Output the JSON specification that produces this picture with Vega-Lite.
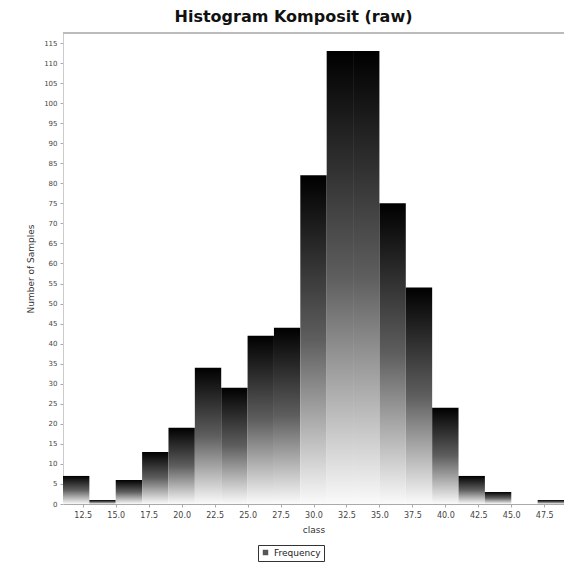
{
  "$schema": "https://vega.github.io/schema/vega-lite/v6.json",
  "width": 501,
  "height": 471,
  "autosize": "none",
  "padding": {"left": 63, "top": 33, "right": 0, "bottom": 60},
  "background": "white",
  "config": {"view": {"stroke": null}, "font": "DejaVu Sans", "axis": {"labelOverlap": false}},
  "title": {"text": "Histogram Komposit (raw)", "fontSize": 16, "fontWeight": "bold", "font": "DejaVu Sans", "color": "#111", "offset": 8, "dx": -20},
  "data": {"values": [
    {"x0": 11, "x1": 13, "count": 7, "series": "Frequency"},
    {"x0": 13, "x1": 15, "count": 1, "series": "Frequency"},
    {"x0": 15, "x1": 17, "count": 6, "series": "Frequency"},
    {"x0": 17, "x1": 19, "count": 13, "series": "Frequency"},
    {"x0": 19, "x1": 21, "count": 19, "series": "Frequency"},
    {"x0": 21, "x1": 23, "count": 34, "series": "Frequency"},
    {"x0": 23, "x1": 25, "count": 29, "series": "Frequency"},
    {"x0": 25, "x1": 27, "count": 42, "series": "Frequency"},
    {"x0": 27, "x1": 29, "count": 44, "series": "Frequency"},
    {"x0": 29, "x1": 31, "count": 82, "series": "Frequency"},
    {"x0": 31, "x1": 33, "count": 113, "series": "Frequency"},
    {"x0": 33, "x1": 35, "count": 113, "series": "Frequency"},
    {"x0": 35, "x1": 37, "count": 75, "series": "Frequency"},
    {"x0": 37, "x1": 39, "count": 54, "series": "Frequency"},
    {"x0": 39, "x1": 41, "count": 24, "series": "Frequency"},
    {"x0": 41, "x1": 43, "count": 7, "series": "Frequency"},
    {"x0": 43, "x1": 45, "count": 3, "series": "Frequency"},
    {"x0": 45, "x1": 47, "count": 0, "series": "Frequency"},
    {"x0": 47, "x1": 49, "count": 1, "series": "Frequency"}
  ]},
  "encoding": {
    "x": {"field": "x0", "type": "quantitative", "scale": {"domain": [11, 49], "nice": false, "zero": false},
          "axis": {"title": "class", "values": [12.5, 15, 17.5, 20, 22.5, 25, 27.5, 30, 32.5, 35, 37.5, 40, 42.5, 45, 47.5], "format": ".1f", "grid": false, "labelOverlap": false,
                   "labelFontSize": 8, "labelColor": "#444", "titleFontSize": 9, "titleFontWeight": "normal", "titleColor": "#333", "titlePadding": 6,
                   "domainColor": "#aaaaaa", "tickColor": "#aaaaaa", "tickSize": 3, "labelPadding": 4}},
    "y": {"field": "count", "type": "quantitative", "scale": {"domain": [0, 117.5], "nice": false},
          "axis": {"title": "Number of Samples", "values": [0,5,10,15,20,25,30,35,40,45,50,55,60,65,70,75,80,85,90,95,100,105,110,115], "grid": false, "labelOverlap": false,
                   "labelFontSize": 7, "labelColor": "#444", "titleFontSize": 9, "titleFontWeight": "normal", "titleColor": "#333", "titlePadding": 8,
                   "domainColor": "#cccccc", "tickColor": "#aaaaaa", "tickSize": 3, "labelPadding": 3}}
  },
  "layer": [
    {
      "mark": {"type": "bar", "fill": {"gradient": "linear", "x1": 0, "y1": 0, "x2": 0, "y2": 1, "stops": [{"offset": 0, "color": "#000000"}, {"offset": 0.5, "color": "#5e5e5e"}, {"offset": 1, "color": "#fafafa"}]}},
      "encoding": {
        "x2": {"field": "x1"},
        "y2": {"datum": 0}
      }
    },
    {
      "mark": {"type": "point", "opacity": 0, "shape": "square", "filled": true},
      "encoding": {
        "color": {"field": "series", "type": "nominal", "scale": {"range": ["#555555"]},
                  "legend": {"title": null, "orient": "none", "legendX": 195, "legendY": 512, "symbolOpacity": 1, "symbolType": "square", "symbolSize": 30,
                             "labelFontSize": 9, "labelColor": "#222", "fillColor": "white", "strokeColor": "#333", "padding": 3}}
      }
    },
    {
      "mark": {"type": "rule", "color": "#bbbbbb", "strokeWidth": 1},
      "encoding": {"y": {"datum": 117.5}, "x": {"datum": 11}, "x2": {"datum": 49}}
    }
  ]
}
